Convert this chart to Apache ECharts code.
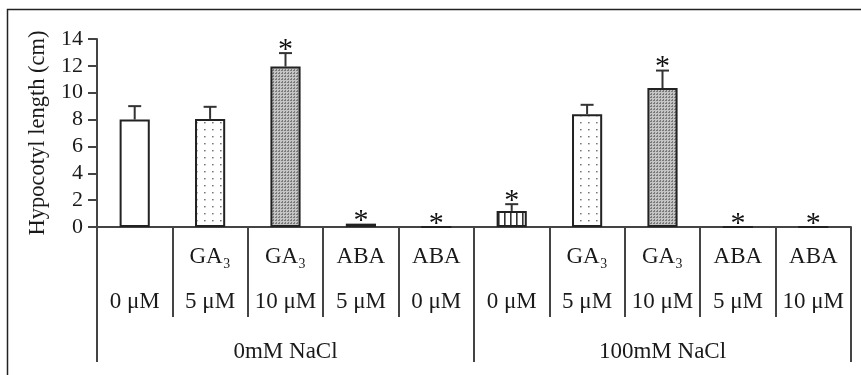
<!DOCTYPE html>
<html>
<head>
<meta charset="utf-8">
<script src="https://cdn.jsdelivr.net/npm/echarts@6/dist/echarts.min.js"></script>
<style>
  html, body { margin: 0; padding: 0; background: #fff; }
  #chart { width: 861px; height: 375px; }
</style>
</head>
<body>
<div id="chart"></div>
<script>
// Hypocotyl length under GA3 / ABA treatments, with and without NaCl
var treatment = ['', 'GA₃', 'GA₃', 'ABA', 'ABA', '', 'GA₃', 'GA₃', 'ABA', 'ABA'];
var dose = ['0 μM', '5 μM', '10 μM', '5 μM', '0 μM', '0 μM', '5 μM', '10 μM', '5 μM', '10 μM'];
var salt = ['0mM NaCl', '100mM NaCl'];
var meanLength = [8.0, 8.05, 11.95, 0.25, 0, 1.2, 8.4, 10.35, 0, 0];
var stdError = [1.0, 0.9, 1.0, 0, 0, 0.5, 0.7, 1.3, 0, 0];
var significant = [0, 0, 1, 1, 1, 1, 0, 1, 1, 1];
var yTicks = [0, 2, 4, 6, 8, 10, 12, 14];

// fill pattern for each bar
var fillKind = ['plain', 'dots', 'dense', 'hatch', 'plain', 'stripes', 'dots', 'dense', 'plain', 'plain'];

function makePattern(w, h, draw) {
  var c = document.createElement('canvas');
  c.width = w; c.height = h;
  var ctx = c.getContext('2d');
  ctx.fillStyle = '#fff';
  ctx.fillRect(0, 0, w, h);
  draw(ctx);
  return { image: c, repeat: 'repeat' };
}
var fills = {
  plain: '#ffffff',
  dots: makePattern(8, 7, function (ctx) {
    ctx.fillStyle = '#777';
    ctx.fillRect(4, 3, 1.6, 1.4);
  }),
  dense: makePattern(3, 3, function (ctx) {
    ctx.fillStyle = '#c4c4c4';
    ctx.fillRect(0, 0, 3, 3);
    ctx.fillStyle = '#7a7a7a';
    ctx.fillRect(0, 0, 1, 2);
    ctx.fillRect(2, 1, 1, 1);
  }),
  hatch: makePattern(6, 5, function (ctx) {
    ctx.strokeStyle = '#666';
    ctx.lineWidth = 1;
    ctx.beginPath();
    ctx.arc(3, 5, 2.5, Math.PI, 2 * Math.PI);
    ctx.stroke();
  }),
  stripes: makePattern(6, 6, function (ctx) {
    ctx.fillStyle = '#333';
    ctx.fillRect(0, 0, 1.6, 6);
  })
};

var serif = '"Liberation Serif", "DejaVu Serif", serif';
var ink = '#1a1a1a';
var lineColor = '#444';

var barData = meanLength.map(function (v, i) {
  return { value: v, itemStyle: { color: fills[fillKind[i]] } };
});
var errData = meanLength.map(function (v, i) {
  return [i, v, stdError[i], significant[i]];
});

var chart = echarts.init(document.getElementById('chart'), null, { renderer: 'canvas' });
chart.setOption({
  backgroundColor: '#fff',
  animation: false,
  grid: { left: 97, right: 10, top: 39, bottom: 148, containLabel: false },
  xAxis: [
    {
      type: 'category',
      data: dose,
      position: 'bottom',
      axisLine: { show: true, lineStyle: { color: lineColor, width: 2 } },
      axisTick: { show: true, length: 90, lineStyle: { color: lineColor, width: 2 } },
      axisLabel: {
        interval: 0,
        margin: 7,
        fontFamily: serif,
        fontSize: 23,
        lineHeight: 45,
        color: ink,
        formatter: function (v, i) { return treatment[i] + '\n' + dose[i]; }
      }
    },
    {
      type: 'category',
      data: salt,
      position: 'bottom',
      axisLine: { show: false },
      axisTick: { show: true, length: 135, lineStyle: { color: lineColor, width: 2 } },
      axisLabel: {
        interval: 0,
        margin: 113,
        fontFamily: serif,
        fontSize: 23,
        color: ink
      }
    }
  ],
  yAxis: {
    type: 'value',
    min: yTicks[0],
    max: yTicks[yTicks.length - 1],
    interval: 2,
    name: 'Hypocotyl length (cm)',
    nameLocation: 'middle',
    nameGap: 47,
    nameRotate: 90,
    nameTextStyle: { fontFamily: serif, fontSize: 22.5, color: ink },
    axisLine: { show: true, lineStyle: { color: lineColor, width: 2 } },
    axisTick: { show: true, length: 9, lineStyle: { color: lineColor, width: 2 } },
    axisLabel: { margin: 14, fontFamily: serif, fontSize: 22, color: ink },
    splitLine: { show: false }
  },
  graphic: [
    {
      type: 'polyline',
      silent: true,
      shape: { points: [[7.5, 375], [7.5, 9.5], [861, 9.5]] },
      style: { stroke: '#222', lineWidth: 1.5, fill: null }
    }
  ],
  series: [
    {
      type: 'bar',
      data: barData,
      barWidth: '40%',
      itemStyle: { borderColor: '#222', borderWidth: 2 },
      z: 2
    },
    {
      type: 'custom',
      xAxisIndex: 0,
      data: errData,
      z: 3,
      renderItem: function (params, api) {
        var idx = api.value(0);
        var v = api.value(1);
        var e = api.value(2);
        var sig = api.value(3);
        var base = api.coord([idx, v]);
        var top = api.coord([idx, v + e]);
        var cap = 6.5;
        var children = [];
        if (e > 0) {
          children.push({
            type: 'line',
            shape: { x1: base[0], y1: base[1], x2: top[0], y2: top[1] },
            style: { stroke: '#333', lineWidth: 2 }
          });
          children.push({
            type: 'line',
            shape: { x1: top[0] - cap, y1: top[1], x2: top[0] + cap, y2: top[1] },
            style: { stroke: '#333', lineWidth: 2 }
          });
        }
        if (sig) {
          children.push({
            type: 'text',
            style: {
              text: '*',
              x: top[0],
              y: top[1] - 3,
              align: 'center',
              verticalAlign: 'middle',
              font: '30px ' + serif,
              fill: '#111'
            }
          });
        }
        return { type: 'group', children: children };
      }
    }
  ]
});
</script>
</body>
</html>
